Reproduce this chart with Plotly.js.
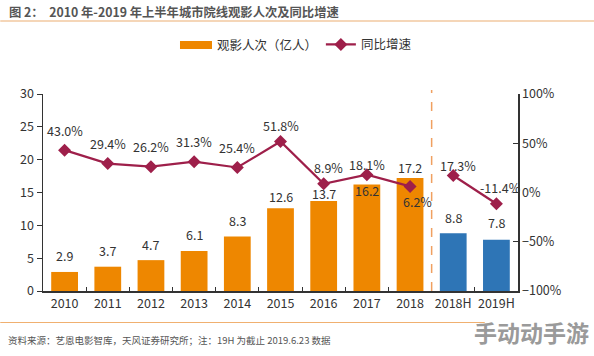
<!DOCTYPE html>
<html><head><meta charset="utf-8">
<script src="https://cdn.plot.ly/plotly-3.0.1.min.js"></script>
<style>body{margin:0;background:#fff}#c{width:594px;height:356px}</style>
</head><body><div id="c"></div>
<script>
const categories = ['2010','2011','2012','2013','2014','2015','2016','2017','2018','2018H','2019H'];
const viewers = [2.9, 3.7, 4.7, 6.1, 8.3, 12.6, 13.7, 16.2, 17.2, 8.8, 7.8];
const growth = [43.0, 29.4, 26.2, 31.3, 25.4, 51.8, 8.9, 18.1, 6.2, 17.3, -11.4];
const barColors = ['#EE8700','#EE8700','#EE8700','#EE8700','#EE8700','#EE8700','#EE8700','#EE8700','#EE8700','#2E75B6','#2E75B6'];
const barLabelShift = [16, 16, 16, 16, 16, 12, 8, -6, 11, 16, 17];
const lineLabelShift = [[0,20],[0,20],[0,20],[0,20],[0,20],[0,16],[5,16],[0,10],[7,-15],[5,10],[4,16]];
const fullIdx = [0,1,2,3,4,5,6,7,8];
const halfIdx = [9,10];
const barSeriesName = '观影人次（亿人）';
const lineSeriesName = '同比增速';

const txt = '#333333';
const lineColor = '#9E1F4A';
const traces = [
  {type:'bar', x:categories, y:viewers, name:barSeriesName, marker:{color:barColors}, width:0.62,
   yaxis:'y', showlegend:false},
  {type:'scatter', mode:'lines+markers', x:fullIdx.map(i=>categories[i]), y:fullIdx.map(i=>growth[i]),
   name:lineSeriesName, yaxis:'y2', line:{color:lineColor, width:2.2}, marker:{symbol:'diamond', size:10, color:lineColor}},
  {type:'scatter', mode:'lines+markers', x:halfIdx.map(i=>categories[i]), y:halfIdx.map(i=>growth[i]),
   name:lineSeriesName, showlegend:false, yaxis:'y2', line:{color:lineColor, width:2.2}, marker:{symbol:'diamond', size:10, color:lineColor}}
];

const annotations = [];
categories.forEach((c,i)=>{
  annotations.push({x:i, y:viewers[i], xref:'x', yref:'y', text:viewers[i].toFixed(1), showarrow:false,
    yshift:barLabelShift[i], font:{size:12.5, color:txt}});
  annotations.push({x:i, y:growth[i], xref:'x', yref:'y2', text:growth[i].toFixed(1)+'%', showarrow:false,
    xshift:lineLabelShift[i][0], yshift:lineLabelShift[i][1], font:{size:12.5, color:txt}});
});
annotations.push({xref:'paper', yref:'paper', x:0, xshift:-36, y:1, yshift:71, text:'<b>图 2：  2010 年-2019 年上半年城市院线观影人次及同比增速</b>',
  showarrow:false, xanchor:'left', yanchor:'bottom', font:{size:12.3, color:'#555555'}});
annotations.push({xref:'paper', yref:'paper', x:0, xshift:-37, y:0, yshift:-40, text:'资料来源：艺恩电影智库，天风证券研究所；注：19H 为截止 2019.6.23 数据',
  showarrow:false, xanchor:'left', yanchor:'top', font:{size:9.5, color:'#555555'}});
annotations.push({xref:'paper', yref:'paper', x:1, xshift:73, y:0, yshift:-22, text:'<b>手动动手游</b>',
  showarrow:false, xanchor:'right', yanchor:'top', font:{size:23, color:'#9a9a9a'}});
annotations.push({xref:'paper', yref:'paper', x:0.362, y:1.249, text:barSeriesName,
  showarrow:false, xanchor:'left', yanchor:'middle', font:{size:12.5, color:txt}});

const layout = {
  width:594, height:356,
  margin:{l:43, r:76, t:94, b:65},
  paper_bgcolor:'#fff', plot_bgcolor:'#fff',
  font:{family:'"Noto Sans CJK SC", "Open Sans", sans-serif', color:txt, size:12},
  showlegend:true,
  legend:{orientation:'h', x:0.585, y:1.25, xanchor:'left', yanchor:'middle', font:{size:12.5, color:txt},
    traceorder:'normal', bgcolor:'rgba(0,0,0,0)'},
  bargap:0.38,
  xaxis:{type:'category', range:[-0.5,10.5], showgrid:false, showline:true, linecolor:'#333', linewidth:1.5,
    ticks:'inside', tickson:'boundaries', ticklen:4, tickcolor:'#333', tickfont:{size:12.5, color:txt},
    zeroline:false, tickangle:0},
  yaxis:{range:[0,30], dtick:5, showgrid:false, showline:true, linecolor:'#333', linewidth:1.5,
    ticks:'outside', ticklen:5, tickcolor:'#333', tickfont:{size:12.5, color:txt}, zeroline:false},
  yaxis2:{range:[-100,100], dtick:50, overlaying:'y', side:'right', showgrid:false, showline:true,
    linecolor:'#333', linewidth:1.5, ticks:'inside', ticklen:5, tickcolor:'#333', ticksuffix:'%',
    tickfont:{size:12.5, color:txt}, zeroline:false},
  shapes:[
    {type:'line', xref:'x', yref:'paper', x0:8.5, x1:8.5, y0:0, y1:1.02, line:{color:'#F0A060', width:1.5, dash:'dash'}},
    {type:'line', xref:'paper', yref:'paper', x0:-0.09, x1:1.16, y0:1.37, y1:1.37, line:{color:'#F2C9A0', width:1.5}},
    {type:'line', xref:'paper', yref:'paper', x0:-0.09, x1:0.93, y0:-0.16, y1:-0.16, line:{color:'#F0B070', width:1.2}},
    {type:'rect', xref:'paper', yref:'paper', x0:0.2884, x1:0.3558, y0:1.228, y1:1.269, line:{width:0}, fillcolor:'#EE8700'}
  ],
  annotations:annotations
};
Plotly.newPlot('c', traces, layout, {displayModeBar:false, staticPlot:true});
</script></body></html>
